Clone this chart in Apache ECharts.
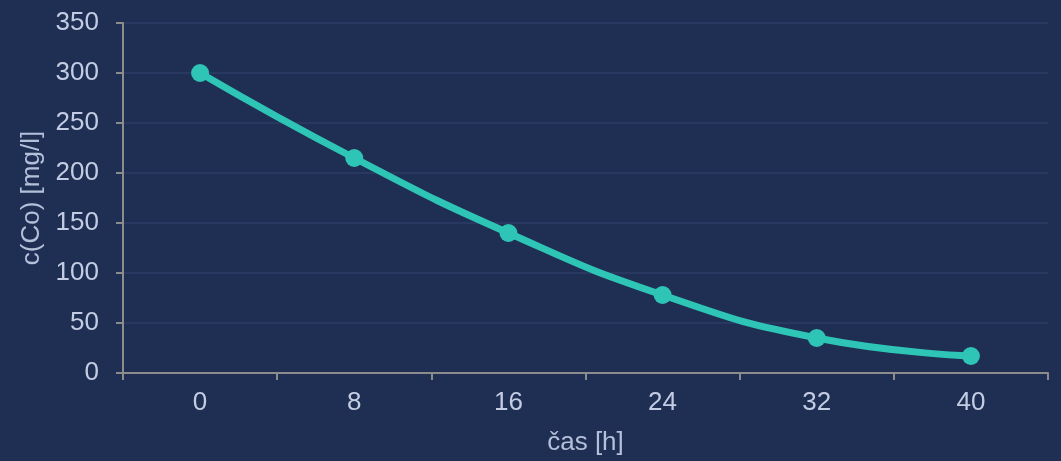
<!DOCTYPE html>
<html>
<head>
<meta charset="utf-8">
<script src="https://cdn.jsdelivr.net/npm/echarts@6/dist/echarts.min.js"></script>
<style>
html,body{margin:0;padding:0;background:#1f2f53;}
#c{width:1061px;height:461px;}
</style>
</head>
<body>
<div id="c"></div>
<script>
const categories = ['0','8','16','24','32','40'];
const values = [300, 215, 140, 78, 35, 17];
const yTicks = { min: 0, max: 350, interval: 50 };

const chart = echarts.init(document.getElementById('c'));
const ff = 'Liberation Sans, Arial, sans-serif';
chart.setOption({
  backgroundColor: '#1f2f53',
  animation: false,
  grid: { left: 123, right: 13, top: 23, bottom: 85 },
  xAxis: {
    type: 'category',
    data: categories,
    boundaryGap: true,
    name: 'čas [h]',
    nameLocation: 'middle',
    nameGap: 57,
    nameTextStyle: { color: '#b4bfd9', fontSize: 26, fontFamily: ff },
    axisLine: { lineStyle: { color: '#8c8c8c', width: 2 } },
    axisTick: { show: true, length: 7, lineStyle: { color: '#8c8c8c', width: 2 } },
    axisLabel: { color: '#c3cce3', fontSize: 26, margin: 17, fontFamily: ff },
    splitLine: { show: false }
  },
  yAxis: {
    type: 'value',
    min: yTicks.min, max: yTicks.max, interval: yTicks.interval,
    name: 'c(Co) [mg/l]',
    nameLocation: 'middle',
    nameGap: 73,
    nameRotate: 90,
    nameTextStyle: { color: '#b4bfd9', fontSize: 26, fontFamily: ff },
    axisLine: { show: true, lineStyle: { color: '#8c8c8c', width: 2 } },
    axisTick: { show: true, length: 7, lineStyle: { color: '#8c8c8c', width: 2 } },
    axisLabel: { color: '#c3cce3', fontSize: 26, margin: 24, fontFamily: ff },
    splitLine: { show: true, lineStyle: { color: '#2c3d66', width: 1.5 } }
  },
  series: [{
    type: 'line',
    data: values,
    smooth: true,
    symbol: 'circle',
    symbolSize: 18,
    lineStyle: { color: '#2ec4b6', width: 7 },
    itemStyle: { color: '#2ec4b6' }
  }]
});
</script>
</body>
</html>
